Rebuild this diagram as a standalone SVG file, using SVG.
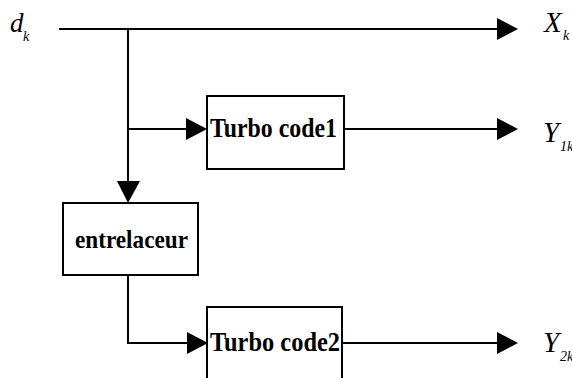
<svg xmlns="http://www.w3.org/2000/svg" width="572" height="378" viewBox="0 0 572 378">
<defs>
<style>
.ln{stroke:#000;stroke-width:2;fill:none}
.box{stroke:#000;stroke-width:2;fill:#fff}
.ah{fill:#000}
.lbl{font-family:"Liberation Serif",serif;font-weight:bold;fill:#000}
.var{font-family:"Liberation Serif",serif;font-style:italic;fill:#000}
</style>
</defs>
<rect width="572" height="378" fill="#fff"/>
<g id="connectors">
<line class="ln" x1="59" y1="29" x2="500" y2="29"/>
<polygon class="ah" points="497,18 518,29 497,40"/>
<line class="ln" x1="128" y1="29" x2="128" y2="184"/>
<polygon class="ah" points="117,181 140,181 128,203"/>
<line class="ln" x1="128" y1="129" x2="188" y2="129"/>
<polygon class="ah" points="186,118 207,129 186,140"/>
<line class="ln" x1="344" y1="129" x2="500" y2="129"/>
<polygon class="ah" points="497,118 518,129 497,140"/>
<polyline class="ln" points="128,275 128,343 190,343"/>
<polygon class="ah" points="187,332 208,343 187,354"/>
<line class="ln" x1="342" y1="343" x2="500" y2="343"/>
<polygon class="ah" points="497,332 518,343 497,354"/>
</g>
<g id="dk">
<text class="var" x="10" y="32" font-size="27">d</text>
<text class="var" x="23" y="41" font-size="14">k</text>
</g>
<g id="Xk">
<text class="var" x="544" y="32" font-size="29">X</text>
<text class="var" x="563" y="40" font-size="14">k</text>
</g>
<g id="Y1k">
<text class="var" x="543" y="142" font-size="29">Y</text>
<text class="var" x="560" y="151" font-size="14">1k</text>
</g>
<g id="Y2k">
<text class="var" x="543" y="352" font-size="29">Y</text>
<text class="var" x="560" y="361" font-size="14">2k</text>
</g>
<g id="turbo1">
<rect class="box" x="207" y="96" width="137" height="73"/>
<text class="lbl" x="210" y="137" font-size="27" textLength="127" lengthAdjust="spacingAndGlyphs">Turbo code1</text>
</g>
<g id="entrelaceur">
<rect class="box" x="63" y="203" width="135" height="72"/>
<text class="lbl" x="75" y="248" font-size="25" textLength="113" lengthAdjust="spacingAndGlyphs">entrelaceur</text>
</g>
<g id="turbo2">
<rect class="box" x="207" y="307" width="135" height="80"/>
<text class="lbl" x="210" y="351" font-size="27" textLength="130" lengthAdjust="spacingAndGlyphs">Turbo code2</text>
</g>
</svg>
